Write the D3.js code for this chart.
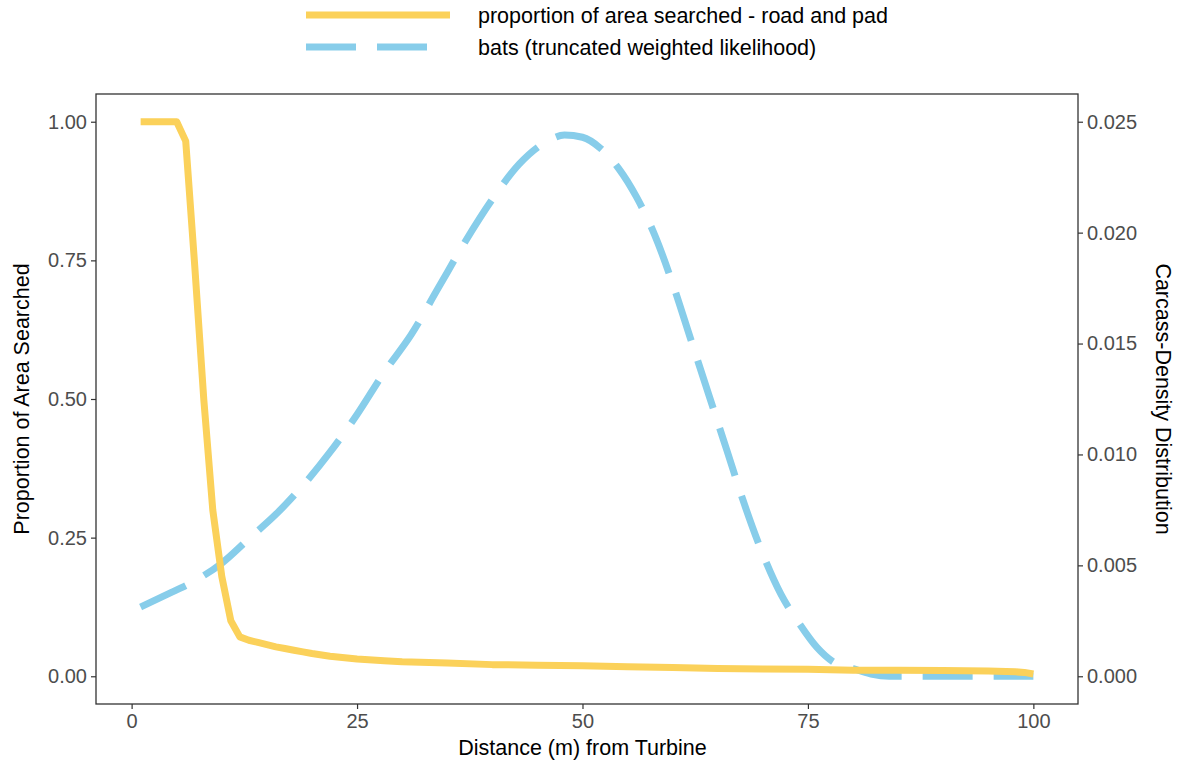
<!DOCTYPE html>
<html>
<head>
<meta charset="utf-8">
<script src="https://cdn.jsdelivr.net/npm/d3@7"></script>
<style>
  body { margin: 0; background: #fff; }
  text { font-family: "Liberation Sans", Arial, sans-serif; }
</style>
</head>
<body>
<svg id="chart" width="1179" height="761"></svg>
<script>
// proportion of area searched (left axis)
const areaDist = [1,2,3,4,5,6,7,8,9,10,11,12,13,14,15,16,17,18,19,20,22,25,28,30,35,40,45,50,55,60,65,70,75,80,85,90,95,98,99,100];
const areaProp = [1,1,1,1,1,0.965,0.74,0.5,0.3,0.18,0.1,0.071,0.065,0.061,0.057,0.053,0.05,0.047,0.044,0.041,0.036,0.031,0.028,0.026,0.024,0.021,0.02,0.019,0.017,0.016,0.014,0.013,0.0125,0.011,0.011,0.0105,0.0095,0.008,0.007,0.004];

// bat carcass density (right axis)
const batDist = [1,4,7,10,13,16,19,22,25,28,31,34,37,40,43,46,48,50,52,54,56,58,60,62,64,66,68,70,72,74,76,78,80,82,84,90,100];
const batDens = [0.00312,0.0037,0.0043,0.0051,0.0062,0.0073,0.0086,0.0101,0.0118,0.0137,0.0154,0.0175,0.0196,0.0215,0.0231,0.0241,0.0244,0.0243,0.0238,0.0229,0.0216,0.0199,0.0177,0.0152,0.0127,0.0102,0.0077,0.0055,0.0037,0.0024,0.0013,0.0006,0.00035,0.0001,0,0,0];

const xTicks = [0, 25, 50, 75, 100];
const leftTicks = [0, 0.25, 0.5, 0.75, 1];
const rightTicks = [0, 0.005, 0.01, 0.015, 0.02, 0.025];

const legendLabels = ["proportion of area searched - road and pad", "bats (truncated weighted likelihood)"];
const yellow = "#FBD15A", blue = "#87CDEA";

//Margins
const margin = {top: 94, right: 101, bottom: 57, left: 96},
  width = 1179 - margin.left - margin.right,
  height = 761 - margin.top - margin.bottom;

const svg = d3.select("#chart");

const x = d3.scaleLinear().domain([-3.95, 104.95]).range([margin.left, margin.left + width]);
const yLeft = d3.scaleLinear().domain([-0.05, 1.05]).range([margin.top + height, margin.top]);
const yRight = d3.scaleLinear().domain([-0.05 * 0.025, 1.05 * 0.025]).range([margin.top + height, margin.top]);

function styleAxis(g) {
  g.select(".domain").remove();
  g.selectAll(".tick line").attr("stroke", "#333").attr("stroke-width", 1.2);
  g.selectAll(".tick text").attr("fill", "#4D4D4D").style("font-size", "20px");
}

svg.append("g")
  .attr("transform", `translate(0,${margin.top + height})`)
  .call(d3.axisBottom(x).tickValues(xTicks).tickSize(5).tickPadding(5).tickFormat(d3.format("d")))
  .call(styleAxis);

svg.append("g")
  .attr("transform", `translate(${margin.left},0)`)
  .call(d3.axisLeft(yLeft).tickValues(leftTicks).tickSize(5).tickPadding(4).tickFormat(d3.format(".2f")))
  .call(styleAxis);

svg.append("g")
  .attr("transform", `translate(${margin.left + width},0)`)
  .call(d3.axisRight(yRight).tickValues(rightTicks).tickSize(5).tickPadding(4).tickFormat(d3.format(".3f")))
  .call(styleAxis);

// panel border
svg.append("rect")
  .attr("x", margin.left).attr("y", margin.top)
  .attr("width", width).attr("height", height)
  .attr("fill", "none").attr("stroke", "#333").attr("stroke-width", 1.3);

// lines
const batLine = d3.line()
  .x((d, i) => x(batDist[i]))
  .y(d => yRight(d))
  .curve(d3.curveMonotoneX);

svg.append("path")
  .datum(batDens)
  .attr("d", batLine)
  .attr("fill", "none")
  .attr("stroke", blue)
  .attr("stroke-width", 7)
  .attr("stroke-dasharray", "50,21");

const areaLine = d3.line()
  .x((d, i) => x(areaDist[i]))
  .y(d => yLeft(d));

svg.append("path")
  .datum(areaProp)
  .attr("d", areaLine)
  .attr("fill", "none")
  .attr("stroke", yellow)
  .attr("stroke-width", 7)
  .attr("stroke-linejoin", "round");

// axis titles
svg.append("text")
  .attr("x", x(50)).attr("y", 748)
  .attr("text-anchor", "middle").attr("dominant-baseline", "central")
  .style("font-size", "21.5px").attr("fill", "#000")
  .text("Distance (m) from Turbine");

svg.append("text")
  .attr("transform", `translate(22,${margin.top + height / 2}) rotate(-90)`)
  .attr("text-anchor", "middle").attr("dominant-baseline", "central")
  .style("font-size", "21.5px").attr("fill", "#000")
  .text("Proportion of Area Searched");

svg.append("text")
  .attr("transform", `translate(1163,${margin.top + height / 2}) rotate(90)`)
  .attr("text-anchor", "middle").attr("dominant-baseline", "central")
  .style("font-size", "21.5px").attr("fill", "#000")
  .text("Carcass-Density Distribution");

// legend
const legend = svg.append("g");
const legendY = [15, 47];
legend.selectAll("line")
  .data(legendLabels)
  .join("line")
    .attr("x1", 306).attr("x2", (d, i) => i === 0 ? 450 : 440)
    .attr("y1", (d, i) => legendY[i]).attr("y2", (d, i) => legendY[i])
    .attr("stroke", (d, i) => i === 0 ? yellow : blue)
    .attr("stroke-width", 7)
    .attr("stroke-dasharray", (d, i) => i === 0 ? null : "50,21");

legend.selectAll("text")
  .data(legendLabels)
  .join("text")
    .attr("x", 478)
    .attr("y", (d, i) => legendY[i] + 1)
    .attr("dominant-baseline", "central")
    .style("font-size", "21.5px")
    .attr("fill", "#000")
    .text(d => d);
</script>
</body>
</html>
